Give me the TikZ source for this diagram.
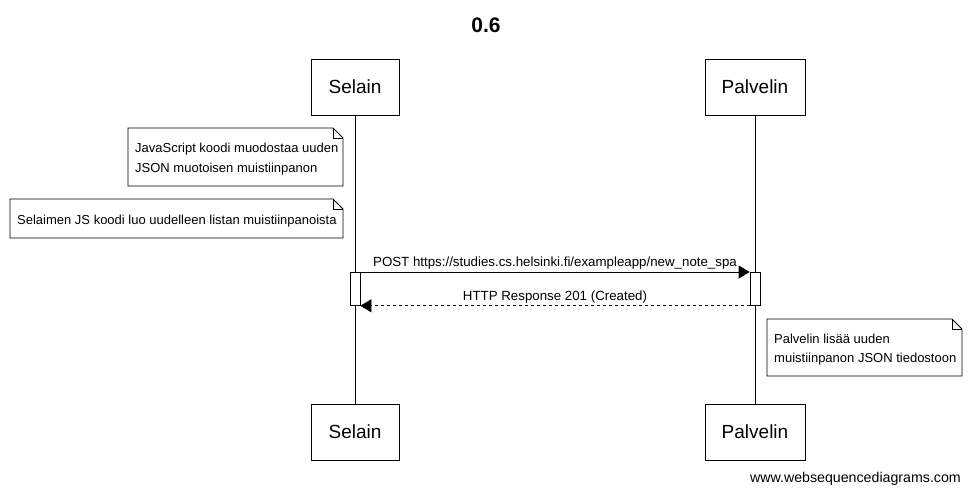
\documentclass[tikz,border=0pt]{standalone}
\usepackage{fontspec}
\setmainfont{Liberation Sans}
\usetikzlibrary{calc,arrows.meta}
\begin{document}
\begin{tikzpicture}[x=1pt,y=-1pt,
  participant/.style={draw,line width=0.8pt,minimum width=88pt,minimum height=56pt,inner sep=0pt,font=\fontsize{19}{22}\selectfont},
  activation/.style={draw,line width=0.8pt,fill=white,minimum width=10pt,minimum height=33pt,inner sep=0pt},
  notetext/.style={align=left,inner sep=0pt,anchor=north west,font=\fontsize{13}{20}\selectfont},
  msglabel/.style={font=\fontsize{13.3}{15}\selectfont,inner sep=0pt},
  msg/.style={line width=0.8pt,-{Triangle[length=11pt,width=13pt]}},
  lifeline/.style={line width=0.8pt}
]
\useasboundingbox (0,0) rectangle (971,494);
\fill[white] (0,0) rectangle (971,494);

\node[font=\bfseries\fontsize{21}{24}\selectfont] (title) at (486,25) {0.6};

\node[participant] (selTop) at (355,87) {Selain};
\node[participant,minimum width=100pt] (palTop) at (755,87) {Palvelin};
\node[participant] (selBot) at (355,432) {Selain};
\node[participant,minimum width=100pt] (palBot) at (755,432) {Palvelin};

\draw[lifeline] (selTop) -- (selBot);
\draw[lifeline] (palTop) -- (palBot);

% note 1
\coordinate (n1a) at (128,128);
\coordinate (n1b) at (343,186);
\draw[line width=0.8pt,fill=white] (n1a) -- ($(n1b|-n1a)+(-10,0)$) coordinate (n1c) -- ($(n1b|-n1a)+(0,10)$) -- (n1b) -- (n1a|-n1b) -- cycle;
\draw[line width=0.8pt] (n1c) -- ++(0,10) -- ++(10,0);
\node[notetext] (n1t) at (135,143) {JavaScript koodi muodostaa uuden\\JSON muotoisen muistiinpanon};

% note 2
\coordinate (n2a) at (10,199);
\coordinate (n2b) at (343,238);
\draw[line width=0.8pt,fill=white] (n2a) -- ($(n2b|-n2a)+(-10,0)$) coordinate (n2c) -- ($(n2b|-n2a)+(0,10)$) -- (n2b) -- (n2a|-n2b) -- cycle;
\draw[line width=0.8pt] (n2c) -- ++(0,10) -- ++(10,0);
\node[notetext] (n2t) at (17,215) {Selaimen JS koodi luo uudelleen listan muistiinpanoista};

% activations
\node[activation,anchor=north] (actS) at (355,272) {};
\node[activation,anchor=north] (actP) at (755,272) {};

% messages
\coordinate (m1s) at (actS.north east);
\coordinate (m1e) at (actP.north west);
\draw[msg] (m1s) -- (m1e) node[midway,above=2pt,msglabel] {POST https://studies.cs.helsinki.fi/exampleapp/new\_note\_spa};
\coordinate (m2s) at (actP.south west);
\coordinate (m2e) at (actS.south east);
\draw[msg,dashed] (m2s) -- (m2e) node[midway,above=2pt,msglabel] {HTTP Response 201 (Created)};

% note 3
\coordinate (n3a) at (767,319);
\coordinate (n3b) at (962,376);
\draw[line width=0.8pt,fill=white] (n3a) -- ($(n3b|-n3a)+(-10,0)$) coordinate (n3c) -- ($(n3b|-n3a)+(0,10)$) -- (n3b) -- (n3a|-n3b) -- cycle;
\draw[line width=0.8pt] (n3c) -- ++(0,10) -- ++(10,0);
\node[notetext,font=\fontsize{13}{19}\selectfont] (n3t) at (774,334) {Palvelin lisää uuden\\muistiinpanon JSON tiedostoon};

\node[anchor=east,font=\fontsize{14.2}{16}\selectfont,inner sep=0pt] (footer) at (961,479) {www.websequencediagrams.com};
\end{tikzpicture}
\end{document}
